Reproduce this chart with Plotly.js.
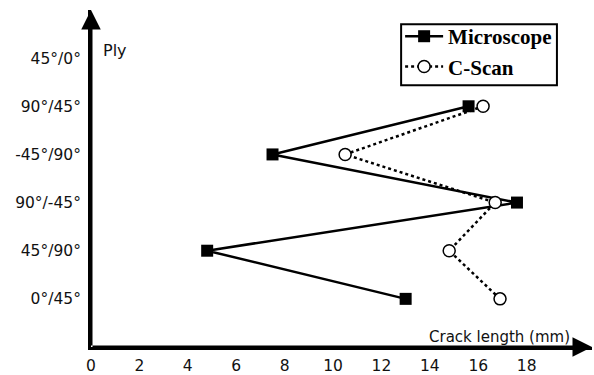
<!DOCTYPE html>
<html>
<head>
<meta charset="utf-8">
<script src="https://cdn.plot.ly/plotly-3.0.1.min.js"></script>
<style>html,body{margin:0;padding:0;background:#fff;}#chart{width:594px;height:375px;}</style>
</head>
<body>
<div id="chart"></div>
<script>
// Ply categories, bottom to top
const plies = ['0°/45°', '45°/90°', '90°/-45°', '-45°/90°', '90°/45°', '45°/0°'];
// Crack length (mm) per ply
const microscopePly = ['0°/45°', '45°/90°', '90°/-45°', '-45°/90°', '90°/45°'];
const microscopeLen = [13.0, 4.8, 17.6, 7.5, 15.6];
const cscanPly = ['0°/45°', '45°/90°', '90°/-45°', '-45°/90°', '90°/45°'];
const cscanLen = [16.9, 14.8, 16.7, 10.5, 16.2];
const xTicks = [0, 2, 4, 6, 8, 10, 12, 14, 16, 18];

const xMax = 20.7;
const yMin = -1, yMax = 6;

const traces = [
  {
    name: 'Microscope', type: 'scatter', mode: 'lines+markers',
    x: microscopeLen, y: microscopePly,
    line: {color: '#000', width: 2.5},
    marker: {symbol: 'square', size: 12, color: '#000'},
    cliponaxis: false
  },
  {
    name: 'C-Scan', type: 'scatter', mode: 'lines+markers',
    x: cscanLen, y: cscanPly,
    line: {color: '#000', width: 2.5, dash: 'dot'},
    marker: {symbol: 'circle', size: 12, color: '#fff', line: {color: '#000', width: 1.5}},
    cliponaxis: false
  }
];

const tickFont = {family: 'DejaVu Sans', size: 15.5, color: '#111'};

const layout = {
  width: 594, height: 375,
  margin: {l: 91, r: 2, t: 10, b: 28},
  paper_bgcolor: '#fff', plot_bgcolor: '#fff',
  showlegend: true,
  legend: {
    x: 0.617, y: 0.982, xanchor: 'left', yanchor: 'top',
    borderwidth: 0, bgcolor: 'rgba(0,0,0,0)',
    font: {family: 'Liberation Serif', size: 21, color: '#000', weight: 'bold'},
    traceorder: 'normal', tracegroupgap: 0, itemwidth: 38
  },
  shapes: [
    {type: 'rect', xref: 'paper', yref: 'paper', x0: 0.619, x1: 0.930, y0: 0.777, y1: 0.958,
     line: {color: '#000', width: 2}, fillcolor: 'rgba(0,0,0,0)', layer: 'above'}
  ],
  xaxis: {
    range: [0, xMax], tickvals: xTicks, ticktext: xTicks.map(String),
    showgrid: false, zeroline: false, showline: true, linecolor: '#000', linewidth: 3,
    ticks: '', tickfont: tickFont, ticklabelstandoff: 2
  },
  yaxis: {
    type: 'category', categoryorder: 'array', categoryarray: plies,
    range: [yMin, yMax],
    showgrid: false, zeroline: false, showline: true, linecolor: '#000', linewidth: 3,
    ticks: '', tickfont: tickFont, ticklabelstandoff: 4
  },
  annotations: [
    {xref: 'x', yref: 'y', x: xMax, y: yMin, axref: 'x', ayref: 'y', ax: 0, ay: yMin,
     showarrow: true, arrowhead: 2, arrowsize: 1.3, arrowwidth: 3, arrowcolor: '#000', text: '', standoff: 0},
    {xref: 'x', yref: 'y', x: 0, y: yMax, axref: 'x', ayref: 'y', ax: 0, ay: yMin,
     showarrow: true, arrowhead: 2, arrowsize: 1.3, arrowwidth: 3, arrowcolor: '#000', text: '', standoff: 0},
    {xref: 'paper', yref: 'paper', x: 0.048, y: 0.881, xanchor: 'center', yanchor: 'middle',
     text: 'Ply', showarrow: false,
     font: {family: 'DejaVu Sans', size: 16, color: '#111'}},
    {xref: 'paper', yref: 'paper', x: 0.816, y: 0.03, xanchor: 'center', yanchor: 'middle',
     text: 'Crack length (mm)', showarrow: false,
     font: {family: 'DejaVu Sans', size: 15, color: '#111'}}
  ]
};

Plotly.newPlot('chart', traces, layout, {displayModeBar: false, staticPlot: true});
</script>
</body>
</html>
